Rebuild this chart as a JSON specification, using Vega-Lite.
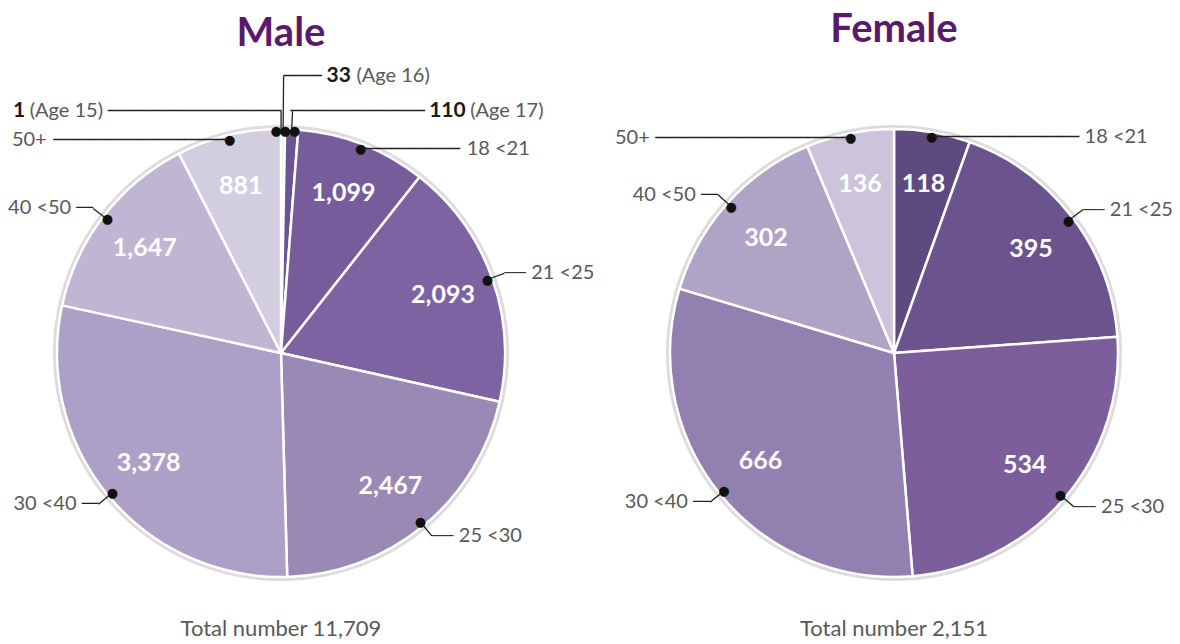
{
  "$schema": "https://vega.github.io/schema/vega-lite/v6.json",
  "padding": {"left": 1, "top": 9, "right": 0, "bottom": 0},
  "bounds": "flush",
  "spacing": 53,
  "config": {"view": {"stroke": null}, "font": "Lato", "title": {"font": "Lato"}},
  "datasets": {
    "male": [
      {"cat": "Age 15", "label": "(Age 15)", "value": 1, "order": 1},
      {"cat": "Age 16", "label": "(Age 16)", "value": 33, "order": 2},
      {"cat": "Age 17", "label": "(Age 17)", "value": 110, "order": 3},
      {"cat": "18 <21", "label": "18 <21", "value": 1099, "order": 4},
      {"cat": "21 <25", "label": "21 <25", "value": 2093, "order": 5},
      {"cat": "25 <30", "label": "25 <30", "value": 2467, "order": 6},
      {"cat": "30 <40", "label": "30 <40", "value": 3378, "order": 7},
      {"cat": "40 <50", "label": "40 <50", "value": 1647, "order": 8},
      {"cat": "50+", "label": "50+", "value": 881, "order": 9}
    ],
    "female": [
      {"cat": "18 <21", "label": "18 <21", "value": 118, "order": 1},
      {"cat": "21 <25", "label": "21 <25", "value": 395, "order": 2},
      {"cat": "25 <30", "label": "25 <30", "value": 534, "order": 3},
      {"cat": "30 <40", "label": "30 <40", "value": 666, "order": 4},
      {"cat": "40 <50", "label": "40 <50", "value": 302, "order": 5},
      {"cat": "50+", "label": "50+", "value": 136, "order": 6}
    ],
    "maleTotal": [{"label": "Total number 11,709"}],
    "femaleTotal": [{"label": "Total number 2,151"}]
  },
  "resolve": {"scale": {"color": "independent", "theta": "independent"}},
  "hconcat": [
    {
      "width": 560,
      "height": 470,
      "title": {"text": "Male", "fontSize": 40, "fontWeight": "bold", "color": "#5a1a6b", "offset": 11, "frame": "group", "anchor": "middle"},
      "data": {"name": "male"},
      "layer": [
        {
          "mark": {"type": "arc", "outerRadius": 228, "fill": "#dcdcdc", "stroke": null},
          "encoding": {"theta": {"field": "value", "type": "quantitative", "stack": true}, "order": {"field": "order", "type": "quantitative"}, "detail": {"field": "cat", "type": "nominal"}}
        },
        {
          "mark": {"type": "arc", "outerRadius": 224, "stroke": "#ffffff", "strokeWidth": 2.5},
          "encoding": {
            "theta": {"field": "value", "type": "quantitative", "stack": true}, "order": {"field": "order", "type": "quantitative"},
            "color": {
              "field": "cat", "type": "nominal", "legend": null,
              "scale": {
                "domain": ["Age 15", "Age 16", "Age 17", "18 <21", "21 <25", "25 <30", "30 <40", "40 <50", "50+"],
                "range": ["#ece8f1", "#e4dfec", "#6a5494", "#765c9b", "#7d63a1", "#9a89b5", "#ada0c6", "#c0b6d3", "#d3cde0"]
              }
            }
          }
        },
        {
          "mark": {"type": "text", "radius": 172, "fontSize": 25, "fontWeight": "bold", "fill": "#ffffff"},
          "encoding": {
            "theta": {"field": "value", "type": "quantitative", "stack": true}, "order": {"field": "order", "type": "quantitative"}, "detail": {"field": "cat", "type": "nominal"},
            "text": {"field": "value", "type": "quantitative", "format": ","},
            "opacity": {"condition": {"test": {"field": "cat", "oneOf": ["Age 15", "Age 16", "Age 17"]}, "value": 0}, "value": 1}
          }
        },
        {
          "mark": {"type": "arc", "innerRadius": 219, "outerRadius": 237, "padAngle": 3, "stroke": "#222222", "strokeWidth": 1.3, "fillOpacity": 0},
          "encoding": {
            "theta": {"field": "value", "type": "quantitative", "stack": true}, "order": {"field": "order", "type": "quantitative"}, "detail": {"field": "cat", "type": "nominal"},
            "opacity": {"condition": {"test": {"field": "cat", "oneOf": ["21 <25", "25 <30", "30 <40", "40 <50"]}, "value": 1}, "value": 0}
          }
        },
        {
          "mark": {"type": "arc", "innerRadius": 222, "outerRadius": 242, "padAngle": 3, "stroke": "#222222", "strokeWidth": 1.3, "fillOpacity": 0},
          "encoding": {
            "theta": {"field": "value", "type": "quantitative", "stack": true}, "order": {"field": "order", "type": "quantitative"}, "detail": {"field": "cat", "type": "nominal"},
            "opacity": {"condition": {"test": {"field": "cat", "oneOf": ["Age 15", "Age 17"]}, "value": 1}, "value": 0}
          }
        },
        {
          "mark": {"type": "arc", "innerRadius": 222, "outerRadius": 277, "padAngle": 3, "stroke": "#222222", "strokeWidth": 1.3, "fillOpacity": 0},
          "encoding": {
            "theta": {"field": "value", "type": "quantitative", "stack": true}, "order": {"field": "order", "type": "quantitative"}, "detail": {"field": "cat", "type": "nominal"},
            "opacity": {"condition": {"test": {"field": "cat", "oneOf": ["Age 16"]}, "value": 1}, "value": 0}
          }
        },
        {
          "mark": {"type": "text", "radius": 219, "fontSize": 13, "font": "DejaVu Sans", "fill": "#111111", "text": "●"},
          "encoding": {
            "theta": {"field": "value", "type": "quantitative", "stack": true}, "order": {"field": "order", "type": "quantitative"}, "detail": {"field": "cat", "type": "nominal"},
            "opacity": {"condition": {"test": {"field": "cat", "oneOf": ["Age 15", "Age 16", "Age 17"]}, "value": 0}, "value": 1}
          }
        },
        {
          "mark": {"type": "text", "radius": 222, "dx": -5, "fontSize": 13, "font": "DejaVu Sans", "fill": "#111111", "text": "●"},
          "encoding": {
            "theta": {"field": "value", "type": "quantitative", "stack": true}, "order": {"field": "order", "type": "quantitative"}, "detail": {"field": "cat", "type": "nominal"},
            "opacity": {"condition": {"test": {"field": "cat", "oneOf": ["Age 15"]}, "value": 1}, "value": 0}
          }
        },
        {
          "mark": {"type": "text", "radius": 222, "dx": 2, "fontSize": 13, "font": "DejaVu Sans", "fill": "#111111", "text": "●"},
          "encoding": {
            "theta": {"field": "value", "type": "quantitative", "stack": true}, "order": {"field": "order", "type": "quantitative"}, "detail": {"field": "cat", "type": "nominal"},
            "opacity": {"condition": {"test": {"field": "cat", "oneOf": ["Age 16"]}, "value": 1}, "value": 0}
          }
        },
        {
          "mark": {"type": "text", "radius": 222, "dx": 3, "fontSize": 13, "font": "DejaVu Sans", "fill": "#111111", "text": "●"},
          "encoding": {
            "theta": {"field": "value", "type": "quantitative", "stack": true}, "order": {"field": "order", "type": "quantitative"}, "detail": {"field": "cat", "type": "nominal"},
            "opacity": {"condition": {"test": {"field": "cat", "oneOf": ["Age 17"]}, "value": 1}, "value": 0}
          }
        },
        {
          "mark": {"type": "text", "radius": 237, "align": "left", "fontSize": 12, "font": "DejaVu Sans", "fill": "#222222", "text": "───"},
          "encoding": {
            "theta": {"field": "value", "type": "quantitative", "stack": true}, "order": {"field": "order", "type": "quantitative"}, "detail": {"field": "cat", "type": "nominal"},
            "opacity": {"condition": {"test": {"field": "cat", "oneOf": ["21 <25", "25 <30"]}, "value": 1}, "value": 0}
          }
        },
        {
          "mark": {"type": "text", "radius": 237, "align": "right", "fontSize": 14, "font": "DejaVu Sans", "fill": "#222222", "text": "──"},
          "encoding": {
            "theta": {"field": "value", "type": "quantitative", "stack": true}, "order": {"field": "order", "type": "quantitative"}, "detail": {"field": "cat", "type": "nominal"},
            "opacity": {"condition": {"test": {"field": "cat", "oneOf": ["30 <40", "40 <50"]}, "value": 1}, "value": 0}
          }
        },
        {
          "mark": {"type": "text", "radius": 237, "align": "left", "dx": 27, "fontSize": 20, "fill": "#595959"},
          "encoding": {
            "theta": {"field": "value", "type": "quantitative", "stack": true}, "order": {"field": "order", "type": "quantitative"}, "detail": {"field": "cat", "type": "nominal"},
            "text": {"field": "label", "type": "nominal"},
            "opacity": {"condition": {"test": {"field": "cat", "oneOf": ["21 <25", "25 <30"]}, "value": 1}, "value": 0}
          }
        },
        {
          "mark": {"type": "text", "radius": 237, "align": "right", "dx": -22, "fontSize": 20, "fill": "#595959", "clip": true},
          "encoding": {
            "theta": {"field": "value", "type": "quantitative", "stack": true}, "order": {"field": "order", "type": "quantitative"}, "detail": {"field": "cat", "type": "nominal"},
            "text": {"field": "label", "type": "nominal"},
            "opacity": {"condition": {"test": {"field": "cat", "oneOf": ["30 <40", "40 <50"]}, "value": 1}, "value": 0}
          }
        },
        {
          "mark": {"type": "text", "radius": 219, "align": "left", "dx": 3, "fontSize": 16, "font": "DejaVu Sans", "fill": "#222222", "text": "──────────", "clip": true},
          "encoding": {
            "theta": {"field": "value", "type": "quantitative", "stack": true}, "order": {"field": "order", "type": "quantitative"}, "detail": {"field": "cat", "type": "nominal"},
            "opacity": {"condition": {"test": {"field": "cat", "oneOf": ["18 <21"]}, "value": 1}, "value": 0}
          }
        },
        {
          "mark": {"type": "text", "radius": 219, "align": "left", "dx": 106, "fontSize": 20, "fill": "#595959", "clip": true},
          "encoding": {
            "theta": {"field": "value", "type": "quantitative", "stack": true}, "order": {"field": "order", "type": "quantitative"}, "detail": {"field": "cat", "type": "nominal"},
            "text": {"field": "label", "type": "nominal"},
            "opacity": {"condition": {"test": {"field": "cat", "oneOf": ["18 <21"]}, "value": 1}, "value": 0}
          }
        },
        {
          "mark": {"type": "text", "radius": 219, "align": "right", "dx": -3, "fontSize": 16, "font": "DejaVu Sans", "fill": "#222222", "text": "──────────────────", "clip": true},
          "encoding": {
            "theta": {"field": "value", "type": "quantitative", "stack": true}, "order": {"field": "order", "type": "quantitative"}, "detail": {"field": "cat", "type": "nominal"},
            "opacity": {"condition": {"test": {"field": "cat", "oneOf": ["50+"]}, "value": 1}, "value": 0}
          }
        },
        {
          "mark": {"type": "text", "radius": 219, "align": "right", "dx": -183, "fontSize": 20, "fill": "#595959", "clip": true},
          "encoding": {
            "theta": {"field": "value", "type": "quantitative", "stack": true}, "order": {"field": "order", "type": "quantitative"}, "detail": {"field": "cat", "type": "nominal"},
            "text": {"field": "label", "type": "nominal"},
            "opacity": {"condition": {"test": {"field": "cat", "oneOf": ["50+"]}, "value": 1}, "value": 0}
          }
        },
        {
          "transform": [{"filter": {"field": "cat", "equal": "Age 15"}}],
          "mark": {"type": "text", "radius": 242, "align": "right", "fontSize": 16, "font": "DejaVu Sans", "fill": "#222222", "text": "──────────────────"},
          "encoding": {"theta": {"field": "value", "type": "quantitative", "stack": true}, "order": {"field": "order", "type": "quantitative"}}
        },
        {
          "transform": [{"filter": {"field": "cat", "equal": "Age 15"}}],
          "mark": {"type": "text", "radius": 242, "align": "right", "dx": -178, "fontSize": 20, "fill": "#595959"},
          "encoding": {"theta": {"field": "value", "type": "quantitative", "stack": true}, "order": {"field": "order", "type": "quantitative"}, "text": {"field": "label", "type": "nominal"}}
        },
        {
          "transform": [{"filter": {"field": "cat", "equal": "Age 15"}}],
          "mark": {"type": "text", "radius": 242, "align": "right", "dx": -256, "fontSize": 21, "fontWeight": "bold", "fill": "#1a1a1a"},
          "encoding": {"theta": {"field": "value", "type": "quantitative", "stack": true}, "order": {"field": "order", "type": "quantitative"}, "text": {"field": "value", "type": "quantitative", "format": ","}}
        },
        {
          "transform": [{"filter": {"field": "cat", "equal": "Age 16"}}],
          "mark": {"type": "text", "radius": 277, "align": "left", "fontSize": 16, "font": "DejaVu Sans", "fill": "#222222", "text": "────"},
          "encoding": {"theta": {"field": "value", "type": "quantitative", "stack": true}, "order": {"field": "order", "type": "quantitative"}}
        },
        {
          "transform": [{"filter": {"field": "cat", "equal": "Age 16"}}],
          "mark": {"type": "text", "radius": 277, "align": "left", "dx": 43, "fontSize": 21, "fontWeight": "bold", "fill": "#1a1a1a"},
          "encoding": {"theta": {"field": "value", "type": "quantitative", "stack": true}, "order": {"field": "order", "type": "quantitative"}, "text": {"field": "value", "type": "quantitative", "format": ","}}
        },
        {
          "transform": [{"filter": {"field": "cat", "equal": "Age 16"}}],
          "mark": {"type": "text", "radius": 277, "align": "left", "dx": 73, "fontSize": 20, "fill": "#595959"},
          "encoding": {"theta": {"field": "value", "type": "quantitative", "stack": true}, "order": {"field": "order", "type": "quantitative"}, "text": {"field": "label", "type": "nominal"}}
        },
        {
          "transform": [{"filter": {"field": "cat", "equal": "Age 17"}}],
          "mark": {"type": "text", "radius": 242, "align": "left", "dx": 2, "fontSize": 16, "font": "DejaVu Sans", "fill": "#222222", "text": "──────────────"},
          "encoding": {"theta": {"field": "value", "type": "quantitative", "stack": true}, "order": {"field": "order", "type": "quantitative"}}
        },
        {
          "transform": [{"filter": {"field": "cat", "equal": "Age 17"}}],
          "mark": {"type": "text", "radius": 242, "align": "left", "dx": 141, "fontSize": 21, "fontWeight": "bold", "fill": "#1a1a1a"},
          "encoding": {"theta": {"field": "value", "type": "quantitative", "stack": true}, "order": {"field": "order", "type": "quantitative"}, "text": {"field": "value", "type": "quantitative", "format": ","}}
        },
        {
          "transform": [{"filter": {"field": "cat", "equal": "Age 17"}}],
          "mark": {"type": "text", "radius": 242, "align": "left", "dx": 182, "fontSize": 20, "fill": "#595959"},
          "encoding": {"theta": {"field": "value", "type": "quantitative", "stack": true}, "order": {"field": "order", "type": "quantitative"}, "text": {"field": "label", "type": "nominal"}}
        },
        {
          "data": {"name": "maleTotal"},
          "mark": {"type": "text", "radius": 276, "theta": 3.14159, "fontSize": 22, "fill": "#595959"},
          "encoding": {"text": {"field": "label", "type": "nominal"}}
        }
      ]
    },
    {
      "width": 560,
      "height": 470,
      "title": {"text": "Female", "fontSize": 40, "fontWeight": "bold", "color": "#5a1a6b", "offset": 60, "frame": "group", "anchor": "middle"},
      "data": {"name": "female"},
      "layer": [
        {
          "mark": {"type": "arc", "outerRadius": 228, "fill": "#dcdcdc", "stroke": null},
          "encoding": {"theta": {"field": "value", "type": "quantitative", "stack": true}, "order": {"field": "order", "type": "quantitative"}, "detail": {"field": "cat", "type": "nominal"}}
        },
        {
          "mark": {"type": "arc", "outerRadius": 224, "stroke": "#ffffff", "strokeWidth": 2.5},
          "encoding": {
            "theta": {"field": "value", "type": "quantitative", "stack": true}, "order": {"field": "order", "type": "quantitative"},
            "color": {
              "field": "cat", "type": "nominal", "legend": null,
              "scale": {
                "domain": ["18 <21", "21 <25", "25 <30", "30 <40", "40 <50", "50+"],
                "range": ["#5f4a80", "#6b538e", "#7b5e9b", "#9180b0", "#b0a4c6", "#cbc4da"]
              }
            }
          }
        },
        {
          "mark": {"type": "text", "radius": 172, "fontSize": 25, "fontWeight": "bold", "fill": "#ffffff"},
          "encoding": {
            "theta": {"field": "value", "type": "quantitative", "stack": true}, "order": {"field": "order", "type": "quantitative"}, "detail": {"field": "cat", "type": "nominal"},
            "text": {"field": "value", "type": "quantitative", "format": ","}
          }
        },
        {
          "mark": {"type": "arc", "innerRadius": 219, "outerRadius": 237, "padAngle": 3, "stroke": "#222222", "strokeWidth": 1.3, "fillOpacity": 0},
          "encoding": {
            "theta": {"field": "value", "type": "quantitative", "stack": true}, "order": {"field": "order", "type": "quantitative"}, "detail": {"field": "cat", "type": "nominal"},
            "opacity": {"condition": {"test": {"field": "cat", "oneOf": ["21 <25", "25 <30", "30 <40", "40 <50"]}, "value": 1}, "value": 0}
          }
        },
        {
          "mark": {"type": "text", "radius": 219, "fontSize": 13, "font": "DejaVu Sans", "fill": "#111111", "text": "●"},
          "encoding": {"theta": {"field": "value", "type": "quantitative", "stack": true}, "order": {"field": "order", "type": "quantitative"}, "detail": {"field": "cat", "type": "nominal"}}
        },
        {
          "mark": {"type": "text", "radius": 237, "align": "left", "fontSize": 12, "font": "DejaVu Sans", "fill": "#222222", "text": "───"},
          "encoding": {
            "theta": {"field": "value", "type": "quantitative", "stack": true}, "order": {"field": "order", "type": "quantitative"}, "detail": {"field": "cat", "type": "nominal"},
            "opacity": {"condition": {"test": {"field": "cat", "oneOf": ["21 <25", "25 <30"]}, "value": 1}, "value": 0}
          }
        },
        {
          "mark": {"type": "text", "radius": 237, "align": "right", "fontSize": 14, "font": "DejaVu Sans", "fill": "#222222", "text": "──"},
          "encoding": {
            "theta": {"field": "value", "type": "quantitative", "stack": true}, "order": {"field": "order", "type": "quantitative"}, "detail": {"field": "cat", "type": "nominal"},
            "opacity": {"condition": {"test": {"field": "cat", "oneOf": ["30 <40", "40 <50"]}, "value": 1}, "value": 0}
          }
        },
        {
          "mark": {"type": "text", "radius": 237, "align": "left", "dx": 27, "fontSize": 20, "fill": "#595959"},
          "encoding": {
            "theta": {"field": "value", "type": "quantitative", "stack": true}, "order": {"field": "order", "type": "quantitative"}, "detail": {"field": "cat", "type": "nominal"},
            "text": {"field": "label", "type": "nominal"},
            "opacity": {"condition": {"test": {"field": "cat", "oneOf": ["21 <25", "25 <30"]}, "value": 1}, "value": 0}
          }
        },
        {
          "mark": {"type": "text", "radius": 237, "align": "right", "dx": -22, "fontSize": 20, "fill": "#595959", "clip": true},
          "encoding": {
            "theta": {"field": "value", "type": "quantitative", "stack": true}, "order": {"field": "order", "type": "quantitative"}, "detail": {"field": "cat", "type": "nominal"},
            "text": {"field": "label", "type": "nominal"},
            "opacity": {"condition": {"test": {"field": "cat", "oneOf": ["30 <40", "40 <50"]}, "value": 1}, "value": 0}
          }
        },
        {
          "mark": {"type": "text", "radius": 219, "align": "left", "dx": 3, "fontSize": 16, "font": "DejaVu Sans", "fill": "#222222", "text": "───────────────", "clip": true},
          "encoding": {
            "theta": {"field": "value", "type": "quantitative", "stack": true}, "order": {"field": "order", "type": "quantitative"}, "detail": {"field": "cat", "type": "nominal"},
            "opacity": {"condition": {"test": {"field": "cat", "oneOf": ["18 <21"]}, "value": 1}, "value": 0}
          }
        },
        {
          "mark": {"type": "text", "radius": 219, "align": "left", "dx": 153, "fontSize": 20, "fill": "#595959", "clip": true},
          "encoding": {
            "theta": {"field": "value", "type": "quantitative", "stack": true}, "order": {"field": "order", "type": "quantitative"}, "detail": {"field": "cat", "type": "nominal"},
            "text": {"field": "label", "type": "nominal"},
            "opacity": {"condition": {"test": {"field": "cat", "oneOf": ["18 <21"]}, "value": 1}, "value": 0}
          }
        },
        {
          "mark": {"type": "text", "radius": 219, "align": "right", "dx": -3, "fontSize": 16, "font": "DejaVu Sans", "fill": "#222222", "text": "────────────────────", "clip": true},
          "encoding": {
            "theta": {"field": "value", "type": "quantitative", "stack": true}, "order": {"field": "order", "type": "quantitative"}, "detail": {"field": "cat", "type": "nominal"},
            "opacity": {"condition": {"test": {"field": "cat", "oneOf": ["50+"]}, "value": 1}, "value": 0}
          }
        },
        {
          "mark": {"type": "text", "radius": 219, "align": "right", "dx": -201, "fontSize": 20, "fill": "#595959", "clip": true},
          "encoding": {
            "theta": {"field": "value", "type": "quantitative", "stack": true}, "order": {"field": "order", "type": "quantitative"}, "detail": {"field": "cat", "type": "nominal"},
            "text": {"field": "label", "type": "nominal"},
            "opacity": {"condition": {"test": {"field": "cat", "oneOf": ["50+"]}, "value": 1}, "value": 0}
          }
        },
        {
          "data": {"name": "femaleTotal"},
          "mark": {"type": "text", "radius": 276, "theta": 3.14159, "fontSize": 22, "fill": "#595959"},
          "encoding": {"text": {"field": "label", "type": "nominal"}}
        }
      ]
    }
  ]
}
